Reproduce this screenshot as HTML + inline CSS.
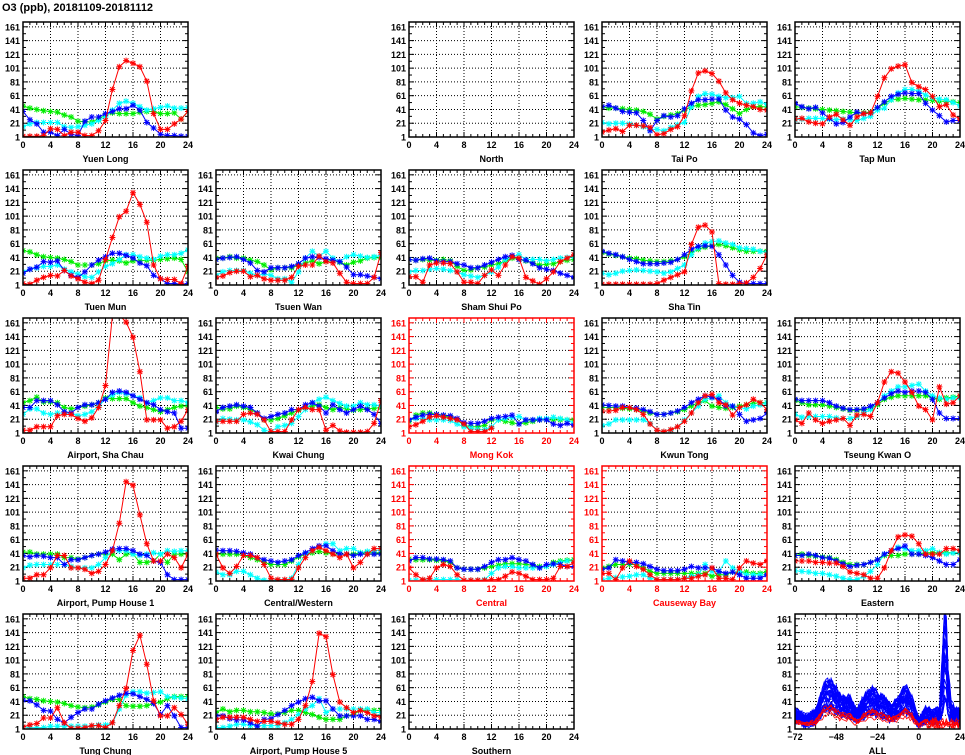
<!DOCTYPE html>
<html><head><meta charset="utf-8"><style>
html,body{margin:0;padding:0;background:#fff;}
svg{display:block;font-family:"Liberation Sans",sans-serif;}
</style></head><body>
<svg id="s" width="965" height="755" xmlns="http://www.w3.org/2000/svg"></svg>
<script>
const S=document.getElementById('s');
let h='<rect width="965" height="755" fill="#fff"/>';
h+='<text x="2" y="11" font-size="11" font-weight="bold" fill="#000">O3 (ppb), 20181109-20181112</text>';
const COLX=[23,216,409,602,795], W=165, H=115, YMAX=168;
const rowB=r=>137+148*r;
const N=null;
const P=[
{r:0,c:0,n:"Yuen Long",d:{
G:[46,43,41,39,38,37,33,30,24,23,23,27,33,36,35,35,35,37,38,38,35,35,36,27,38],
C:[16,20,22,22,22,22,16,15,16,18,20,25,30,40,50,53,50,45,40,42,44,46,43,43,44],
B:[38,26,20,8,8,3,12,5,3,24,30,30,35,38,42,42,47,40,22,14,5,3,3,2,2],
R:[2,2,2,3,13,12,3,8,8,3,3,10,25,70,103,112,108,103,82,35,12,12,20,27,38]}},
{r:0,c:2,n:"North",d:null},
{r:0,c:3,n:"Tai Po",d:{
G:[45,43,43,42,41,40,38,34,27,31,33,35,40,45,47,48,50,52,48,42,35,41,45,45,45],
C:[22,20,21,21,20,18,16,12,12,10,15,19,22,45,60,64,63,60,58,58,60,50,50,52,48],
B:[45,47,43,38,37,36,25,10,25,32,30,32,42,50,55,55,56,56,40,30,27,19,7,3,5],
R:[8,11,13,9,18,18,17,15,4,6,12,16,32,68,94,97,93,82,65,55,50,47,45,41,40]}},
{r:0,c:4,n:"Tap Mun",d:{
G:[45,44,43,42,41,40,39,38,37,36,36,37,43,50,55,56,57,56,55,55,54,53,53,52,51],
C:[26,27,28,28,28,27,26,27,26,25,28,31,40,43,55,65,70,70,68,62,58,56,55,51,46],
B:[50,45,42,44,36,28,20,22,30,37,35,36,44,52,60,63,65,64,64,50,40,32,23,25,25],
R:[27,28,23,21,20,30,34,26,18,30,35,36,60,87,100,104,106,80,74,70,60,45,48,33,27]}},
{r:1,c:0,n:"Tuen Mun",d:{
G:[51,49,45,42,41,40,38,35,30,30,30,32,36,37,36,33,36,36,37,37,38,39,40,38,20],
C:[20,24,26,28,28,30,24,20,17,13,12,20,28,32,38,45,45,42,40,38,43,45,45,47,52],
B:[18,24,27,35,34,36,22,15,12,20,30,37,42,47,47,44,40,33,29,15,10,3,3,2,3],
R:[3,2,8,12,15,14,22,14,10,5,3,8,38,70,100,108,135,118,92,30,10,9,9,3,28]}},
{r:1,c:1,n:"Tsuen Wan",d:{
G:[40,40,42,40,40,37,35,30,23,26,26,26,30,33,36,32,35,37,34,30,34,36,40,41,40],
C:[15,20,22,22,22,18,15,17,15,10,10,5,20,40,50,43,50,40,35,42,45,43,41,42,44],
B:[38,40,41,42,38,33,22,20,26,26,26,28,32,40,42,41,39,37,35,27,16,16,14,12,10],
R:[12,14,19,21,21,13,15,10,8,8,8,12,28,30,30,43,35,33,18,5,3,3,3,12,48]}},
{r:1,c:2,n:"Sham Shui Po",d:{
G:[38,37,38,37,37,38,36,28,22,23,26,27,30,32,36,40,38,36,33,30,31,32,35,37,38],
C:[20,22,22,24,25,24,22,20,16,14,12,15,20,27,38,42,45,38,38,38,36,38,40,41,42],
B:[38,37,39,40,36,35,35,32,30,26,26,30,34,38,42,44,38,37,32,26,24,22,18,15,12],
R:[13,13,5,30,33,33,32,20,5,5,3,15,23,15,30,42,40,12,7,2,10,20,35,40,45]}},
{r:1,c:3,n:"Sha Tin",d:{
G:[48,46,44,42,40,39,37,36,35,35,36,38,42,48,53,56,58,60,58,55,52,50,50,50,50],
C:[18,16,18,21,22,23,22,21,20,18,20,25,30,45,55,62,64,65,62,60,55,54,53,50,48],
B:[50,47,45,42,38,35,32,32,32,33,34,38,45,53,57,58,57,45,30,15,5,3,3,3,3],
R:[2,2,2,2,2,2,2,2,3,8,12,16,20,60,85,88,78,3,2,2,3,4,12,25,45]}},
{r:2,c:0,n:"Airport, Sha Chau",d:{
G:[45,48,53,46,46,45,38,36,38,40,42,45,52,51,51,51,45,40,38,35,32,35,38,40,40],
C:[28,36,36,30,28,30,30,30,26,28,32,40,50,56,60,58,55,52,45,48,52,52,48,48,45],
B:[38,38,48,48,48,42,32,30,38,42,42,45,50,60,62,60,55,50,45,42,35,32,30,8,8],
R:[5,5,10,10,10,26,28,28,22,18,23,38,70,172,172,162,140,90,20,20,20,8,10,18,35]}},
{r:2,c:1,n:"Kwai Chung",d:{
G:[38,36,36,40,38,35,30,20,20,22,26,30,34,38,40,42,38,35,38,36,34,35,36,37,38],
C:[17,22,21,20,20,17,13,5,3,10,12,15,25,35,45,50,53,48,44,40,40,45,42,42,40],
B:[32,38,40,42,40,38,30,22,25,28,30,35,35,42,45,40,30,42,35,30,35,40,35,28,15],
R:[18,18,18,18,28,30,28,20,3,3,3,20,35,38,35,35,5,12,4,2,2,2,3,15,48]}},
{r:2,c:2,n:"Mong Kok",red:1,d:{
G:[18,27,30,30,28,26,24,20,12,10,10,12,20,20,18,16,14,16,18,20,20,20,20,20,20],
C:[20,22,22,20,20,20,19,14,10,8,6,6,10,20,22,24,25,20,20,22,22,24,22,20,15],
B:[20,24,27,28,28,27,26,22,16,15,15,18,22,24,25,27,14,20,20,20,20,14,12,15,12],
R:[10,13,18,24,26,24,22,20,14,3,3,3,8,N,N,N,N,N,N,N,N,N,N,N,N]}},
{r:2,c:3,n:"Kwun Tong",d:{
G:[38,38,38,37,36,35,33,30,28,28,30,32,35,40,45,48,40,38,37,38,40,42,44,45,45],
C:[12,14,20,20,20,20,20,15,5,3,5,10,20,30,40,50,52,55,45,40,38,36,40,42,45],
B:[42,41,40,40,38,37,35,32,28,28,30,33,38,45,50,55,53,50,40,40,28,18,20,22,30],
R:[33,33,34,38,38,35,28,14,5,3,6,10,18,30,45,55,57,45,42,27,38,42,50,45,35]}},
{r:2,c:4,n:"Tseung Kwan O",d:{
G:[48,45,42,42,42,40,38,36,34,34,35,36,42,50,53,55,55,55,55,55,52,50,52,53,55],
C:[28,24,25,25,25,25,23,22,22,25,30,35,45,55,62,68,68,70,72,62,55,52,50,52,52],
B:[50,48,48,48,48,45,40,37,35,35,36,40,45,52,58,62,60,62,62,60,50,30,22,22,22],
R:[20,15,30,20,15,18,20,22,12,27,28,25,45,75,90,88,75,60,40,35,20,68,43,45,55]}},
{r:3,c:0,n:"Airport, Pump House 1",d:{
G:[43,43,40,40,40,40,35,35,33,35,38,40,40,40,32,40,40,28,28,30,40,28,40,40,40],
C:[20,24,25,25,25,25,25,22,20,20,20,25,35,45,45,45,40,38,40,42,40,45,44,45,45],
B:[38,36,38,37,35,35,25,32,32,35,38,40,43,47,48,48,45,40,38,30,28,10,3,3,3],
R:[5,5,10,10,20,38,38,20,20,18,12,15,25,45,85,145,140,97,55,30,30,40,35,20,40]}},
{r:3,c:1,n:"Central/Western",d:{
G:[40,40,40,40,38,35,32,28,25,25,25,30,36,40,42,44,42,40,40,40,40,42,42,42,42],
C:[14,10,10,15,15,10,5,2,2,2,2,5,25,40,45,50,55,55,45,48,48,42,44,45,46],
B:[46,45,45,44,42,40,35,32,30,28,30,32,38,42,48,52,52,45,40,40,38,40,40,40,40],
R:[40,20,12,22,38,38,35,25,5,3,3,3,20,35,45,50,45,40,35,40,20,28,40,48,48]}},
{r:3,c:2,n:"Central",red:1,d:{
G:[33,32,32,32,31,30,28,20,18,18,18,20,22,24,26,26,26,25,24,22,22,28,30,31,32],
C:[2,2,2,2,3,3,3,3,2,2,2,3,12,20,22,22,20,20,20,20,22,25,28,30,30],
B:[30,35,35,33,33,32,30,20,18,18,18,22,28,32,32,35,32,30,25,20,25,26,25,22,22],
R:[20,10,3,5,20,25,22,10,2,2,2,2,3,3,8,14,12,8,3,3,3,5,22,22,28]}},
{r:3,c:3,n:"Causeway Bay",red:1,d:{
G:[20,22,25,25,25,25,20,15,12,12,12,12,12,12,12,12,8,10,10,14,14,14,12,12,15],
C:[3,5,6,7,8,10,10,5,3,3,3,3,5,8,10,25,15,15,30,20,15,10,10,10,10],
B:[18,20,32,30,28,28,26,22,18,16,16,16,18,22,20,20,20,15,12,14,10,5,5,5,10],
R:[12,12,3,20,30,22,18,10,3,3,3,3,5,5,8,10,20,5,5,3,20,30,27,25,30]}},
{r:3,c:4,n:"Eastern",d:{
G:[38,40,38,37,36,35,32,28,25,25,25,28,32,38,38,38,40,40,40,42,42,42,42,42,42],
C:[16,15,14,12,12,10,8,5,3,3,8,15,25,40,45,50,48,45,45,45,48,42,40,42,42],
B:[38,38,40,38,35,34,30,26,22,24,25,28,32,40,45,48,52,40,40,38,35,30,25,25,32],
R:[30,30,30,28,28,27,27,22,14,12,10,5,5,20,45,65,68,66,55,40,40,40,48,48,45]}},
{r:4,c:0,n:"Tung Chung",d:{
G:[48,45,44,42,41,40,38,35,33,32,33,36,40,44,44,35,34,34,35,38,40,45,48,48,48],
C:[4,3,3,3,5,5,5,5,5,5,5,7,7,10,30,50,55,55,53,54,55,48,47,46,45],
B:[43,42,36,28,27,15,10,18,25,30,30,37,42,46,50,53,52,48,44,38,22,35,20,3,3],
R:[4,7,9,17,17,32,10,2,2,3,6,6,3,10,35,60,115,137,95,42,20,20,32,22,8]}},
{r:4,c:1,n:"Airport, Pump House 5",d:{
G:[25,30,26,28,28,26,26,25,23,23,25,28,28,25,22,18,15,15,15,20,22,28,28,28,28],
C:[3,3,5,8,8,6,6,6,6,6,10,15,22,30,35,45,25,30,30,30,30,30,30,25,25],
B:[20,20,16,14,14,10,5,15,16,22,28,35,40,45,47,42,42,30,20,20,20,20,15,15,12],
R:[15,18,18,18,18,15,12,12,12,10,8,8,15,35,70,140,135,80,40,32,25,28,25,20,18]}},
{r:4,c:2,n:"Southern",d:null},
{r:4,c:4,n:"ALL",all:1}
];
const COL={G:"#00ee00",C:"#00ffff",B:"#0000ff",R:"#ff0000"};
function star(x,y,c){const r=3;return `<path d="M${x-r},${y}H${x+r}M${x},${y-r}V${y+r}M${x-2.3},${y-2.3}L${x+2.3},${y+2.3}M${x-2.3},${y+2.3}L${x+2.3},${y-2.3}" stroke="${c}" stroke-width="1" fill="none"/>`;}
let seed=7;function rnd(){seed=(seed*16807)%2147483647;return seed/2147483647;}
P.forEach((p,i)=>{
  const x0=COLX[p.c], yb=rowB(p.r), yt=yb-H;
  const ac=p.red?"#ff0000":"#000";
  const xmin=p.all?-72:0, xmax=24;
  const X=v=>x0+(v-xmin)/(xmax-xmin)*W;
  const Y=v=>yb-(v-1)/(YMAX-1)*H;
  h+=`<clipPath id="c${i}"><rect x="${x0}" y="${yt}" width="${W}" height="${H}"/></clipPath>`;
  const xt=p.all?[-60,-48,-36,-24,-12,0,12]:[4,8,12,16,20];
  xt.forEach(t=>{h+=`<line x1="${X(t)}" y1="${yt}" x2="${X(t)}" y2="${yb}" stroke="#000" stroke-width="1" stroke-dasharray="1,2"/>`;});
  for(let v=21;v<=161;v+=20){h+=`<line x1="${x0}" y1="${Y(v)}" x2="${x0+W}" y2="${Y(v)}" stroke="#000" stroke-width="1" stroke-dasharray="1,2"/>`;}
  const mx=p.all?6:1;
  for(let t=xmin;t<=xmax;t+=mx){const L=((t-xmin)%(p.all?24:4)==0)?5:3;h+=`<line x1="${X(t)}" y1="${yb}" x2="${X(t)}" y2="${yb-L}" stroke="${ac}"/><line x1="${X(t)}" y1="${yt}" x2="${X(t)}" y2="${yt+L}" stroke="${ac}"/>`;}
  for(let v=1;v<=161;v+=10){const L=((v-1)%20==0)?5:3;h+=`<line x1="${x0}" y1="${Y(v)}" x2="${x0+L}" y2="${Y(v)}" stroke="${ac}"/><line x1="${x0+W}" y1="${Y(v)}" x2="${x0+W-L}" y2="${Y(v)}" stroke="${ac}"/>`;}
  h+=`<g clip-path="url(#c${i})">`;
  if(p.d){
    ["G","C","B","R"].forEach(k=>{
      const a=p.d[k];let pts=[];let mk='';
      a.forEach((v,j)=>{if(v!==null){pts.push(`${X(j).toFixed(1)},${Y(v).toFixed(1)}`);mk+=star(+X(j).toFixed(1),+Y(v).toFixed(1),COL[k]);}});
      h+=`<polyline points="${pts.join(' ')}" fill="none" stroke="${COL[k]}" stroke-width="1"/>`+mk;
    });
  }
  if(p.all){
    const kf=[[-72,25],[-66,15],[-60,22],[-55,55],[-51,58],[-46,42],[-40,38],[-36,22],[-31,42],[-27,48],[-21,40],[-16,28],[-12,38],[-8,52],[-4,38],[0,12],[4,25],[8,22],[12,25],[14,80],[15,120],[16,110],[17,60],[19,30],[21,25],[24,22]];
    const base=t=>{for(let k=0;k<kf.length-1;k++){if(t>=kf[k][0]&&t<=kf[k+1][0]){const f=(t-kf[k][0])/(kf[k+1][0]-kf[k][0]);return kf[k][1]*(1-f)+kf[k+1][1]*f;}}return 20;};
    for(let L=0;L<30;L++){
      const sc=0.5+rnd()*0.75, sp=0.3+rnd()*1.2;let pts=[];
      for(let t=-72;t<=24;t++){let v=base(t);if(t>12&&t<19)v=v*sp;else v=v*sc;v+=(rnd()-0.5)*12;v=Math.max(1,v);pts.push(`${X(t).toFixed(1)},${Y(v).toFixed(1)}`);}
      h+=`<polyline points="${pts.join(' ')}" fill="none" stroke="#0000ff" stroke-width="1"/>`;
    }
    for(let L=0;L<6;L++){
      const sc=0.35+rnd()*0.25;let pts=[];
      for(let t=-72;t<=24;t++){let v=base(t)*sc;if(t>4)v=3+rnd()*12;v+=(rnd()-0.5)*6;v=Math.max(1,v);pts.push(`${X(t).toFixed(1)},${Y(v).toFixed(1)}`);}
      h+=`<polyline points="${pts.join(' ')}" fill="none" stroke="#ff0000" stroke-width="0.8"/>`;
    }
  }
  h+='</g>';
  h+=`<rect x="${x0}" y="${yt}" width="${W}" height="${H}" fill="none" stroke="${ac}" stroke-width="1.5"/>`;
  for(let v=1;v<=161;v+=20){h+=`<text x="${x0-3}" y="${Y(v)+3.5}" font-size="9" font-weight="bold" text-anchor="end" fill="${ac}">${v}</text>`;}
  const xl=p.all?[-72,-48,-24,0,24]:[0,4,8,12,16,20,24];
  xl.forEach(t=>{h+=`<text x="${X(t)}" y="${yb+11}" font-size="9" font-weight="bold" text-anchor="middle" fill="${ac}">${t<0?'\u2212'+(-t):t}</text>`;});
  h+=`<text x="${x0+W/2}" y="${yb+25}" font-size="9" font-weight="bold" text-anchor="middle" fill="${ac}">${p.n}</text>`;
});
S.innerHTML=h;
</script>
</body></html>
